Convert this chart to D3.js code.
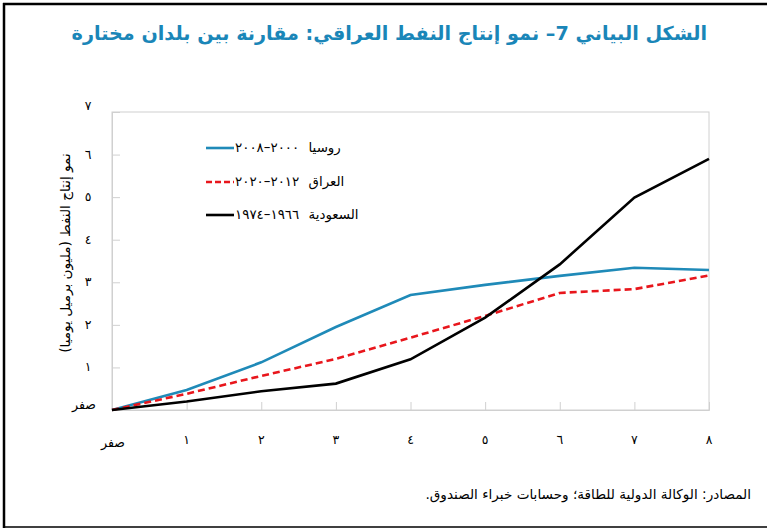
<!DOCTYPE html>
<html><head><meta charset="utf-8">
<script src="https://cdn.jsdelivr.net/npm/d3@7"></script>
<style>
html,body{margin:0;padding:0;background:#fff;}
svg{display:block;}
</style></head>
<body>
<svg id="c" width="767" height="529"></svg>
<script>
const years = [0,1,2,3,4,5,6,7,8];
const russia = [0,0.47,1.12,1.95,2.70,2.94,3.15,3.34,3.29];
const iraq   = [0,0.38,0.80,1.20,1.70,2.21,2.75,2.84,3.16];
const saudi  = [0,0.20,0.44,0.62,1.19,2.17,3.42,4.99,5.90];
const tickLabels = ["صفر","١","٢","٣","٤","٥","٦","٧","٨"];
const yTicks = [0,1,2,3,4,5,6,7];
const seriesNames = ["روسيا ٢٠٠٠–٢٠٠٨","العراق ٢٠١٢–٢٠٢٠","السعودية ١٩٦٦–١٩٧٤"];
const titleText = "الشكل البياني 7– نمو إنتاج النفط العراقي: مقارنة بين بلدان مختارة";
const yTitle = "نمو إنتاج النفط (مليون برميل يوميا)";
const sourceText = "المصادر: الوكالة الدولية للطاقة؛ وحسابات خبراء الصندوق.";

const svg = d3.select("#c");
const x = d3.scaleLinear().domain([0,8]).range([112,709]);
const y = d3.scaleLinear().domain([0,7]).range([410,112]);
const font = "'DejaVu Sans', sans-serif";

// outer frame
svg.append("line").attr("x1",3).attr("x2",767).attr("y1",4).attr("y2",4).attr("stroke","#000").attr("stroke-width",2.5);
svg.append("line").attr("x1",4).attr("x2",4).attr("y1",3).attr("y2",528).attr("stroke","#000").attr("stroke-width",2.5);
svg.append("line").attr("x1",3).attr("x2",767).attr("y1",527).attr("y2",527).attr("stroke","#000").attr("stroke-width",1.5);

// title
svg.append("text").attr("x",707).attr("y",40).attr("direction","rtl").attr("text-anchor","start")
  .attr("font-family",font).attr("font-weight","bold").attr("font-size",19.2).attr("fill","#1a86b8").text(titleText);

// plot frame
const gc = "#d0d0d0";
svg.append("rect").attr("x",x(0)).attr("y",y(7)).attr("width",x(8)-x(0)).attr("height",y(0)-y(7))
  .attr("fill","none").attr("stroke",gc).attr("stroke-width",1);

// y axis ticks (inward)
const yAxis = d3.axisRight(y).tickValues(yTicks).tickSize(8).tickFormat("");
const gy = svg.append("g").attr("transform",`translate(${x(0)},0)`).call(yAxis);
gy.selectAll("line").attr("stroke",gc);
gy.select(".domain").attr("stroke",gc);
// x axis ticks (inward)
const xAxis = d3.axisTop(x).tickValues(years).tickSize(8).tickFormat("");
const gx = svg.append("g").attr("transform",`translate(0,${y(0)})`).call(xAxis);
gx.selectAll("line").attr("stroke",gc);
gx.select(".domain").attr("stroke",gc);

// y tick labels
svg.append("g").selectAll("text").data(yTicks).join("text")
  .attr("x",d=> d===0?84:88).attr("y",d=> d===7? y(d)-2 : (d===0? y(d)-1 : y(d)+4))
  .attr("text-anchor","middle").attr("font-family",font).attr("font-size",12.5).attr("fill","#000")
  .text(d=>tickLabels[d]);
// x tick labels
svg.append("g").selectAll("text").data(years).join("text")
  .attr("x",d=> d===0? x(d)+1 : x(d)).attr("y",d=> d===0?447:444)
  .attr("text-anchor","middle").attr("font-family",font).attr("font-size",12.5).attr("fill","#000")
  .text(d=>tickLabels[d]);

// y title
svg.append("text").attr("transform","translate(70,253) rotate(-90)").attr("text-anchor","middle")
  .attr("direction","rtl").attr("font-family",font).attr("font-size",13.6).attr("fill","#000").text(yTitle);

// lines
const line = d3.line().x((d,i)=>x(years[i])).y(d=>y(d));
const colors = ["#1f8ab8","#e8161c","#000000"];
const dashes = [null,"7,4",null];
[russia,iraq,saudi].forEach((s,i)=>{
  svg.append("path").datum(s).attr("d",line).attr("fill","none").attr("stroke",colors[i])
    .attr("stroke-width",2.6).attr("stroke-dasharray",dashes[i]);
});

// legend
const legY = [148,182,215];
seriesNames.forEach((n,i)=>{
  svg.append("line").attr("x1",206).attr("x2",234).attr("y1",legY[i]).attr("y2",legY[i])
    .attr("stroke",colors[i]).attr("stroke-width",2.6).attr("stroke-dasharray",dashes[i]? "6,3":null);
  svg.append("text").attr("x",235).attr("y",legY[i]+4).attr("direction","rtl").attr("text-anchor","end")
    .attr("font-family",font).attr("font-size",13.4).attr("word-spacing",5)
    .attr("fill","#000").text(n);
});

// source
svg.append("text").attr("x",751).attr("y",499).attr("direction","rtl").attr("text-anchor","start")
  .attr("font-family",font).attr("font-size",13.6).attr("fill","#000").text(sourceText);
</script>
</body></html>
